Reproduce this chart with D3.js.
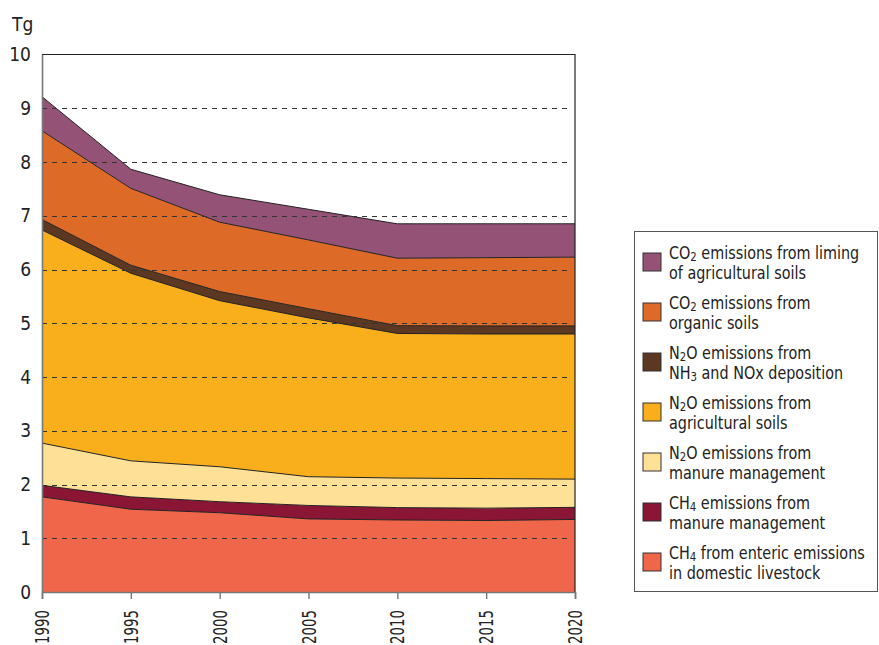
<!DOCTYPE html>
<html>
<head>
<meta charset="utf-8">
<script src="https://cdn.jsdelivr.net/npm/d3@7"></script>
<style>
  html, body { margin: 0; padding: 0; background: #fff; }
  svg { display: block; }
  text { font-family: "Liberation Sans Narrow", "Arial Narrow", "DejaVu Sans Condensed", sans-serif; fill: #222; }
</style>
</head>
<body>
<svg id="chart" width="879" height="645"></svg>
<script>
// Agricultural emissions, Tg, stacked from the bottom up
const years = [1990, 1995, 2000, 2005, 2010, 2015, 2020];
const entericCH4    = [1.77, 1.54, 1.475, 1.36, 1.34, 1.33, 1.35];
const manureCH4     = [0.215, 0.23, 0.205, 0.25, 0.23, 0.23, 0.225];
const manureN2O     = [0.785, 0.67, 0.65, 0.535, 0.55, 0.55, 0.525];
const soilsN2O      = [3.965, 3.49, 3.09, 2.955, 2.69, 2.69, 2.70];
const depositionN2O = [0.195, 0.15, 0.17, 0.17, 0.145, 0.15, 0.15];
const organicCO2    = [1.65, 1.43, 1.29, 1.28, 1.255, 1.27, 1.28];
const limingCO2     = [0.635, 0.355, 0.51, 0.57, 0.64, 0.63, 0.62];

const yTicks = [0, 1, 2, 3, 4, 5, 6, 7, 8, 9, 10];
const xTicks = [1990, 1995, 2000, 2005, 2010, 2015, 2020];

// Series in stacking order (bottom first)
const seriesKeys = ["enteric", "manureCH4", "manureN2O", "soilsN2O", "deposition", "organic", "liming"];
const seriesValues = {
  enteric: entericCH4, manureCH4: manureCH4, manureN2O: manureN2O,
  soilsN2O: soilsN2O, deposition: depositionN2O, organic: organicCO2, liming: limingCO2
};
const seriesColors = {
  enteric: "#f0664a", manureCH4: "#8a1535", manureN2O: "#fee096",
  soilsN2O: "#f9af1b", deposition: "#5c3722", organic: "#de6a28", liming: "#945276"
};
// Legend lines; each part is [text, isSubscript]
const legendItems = [
  { key: "liming",     lines: [[["CO", false], ["2", true], [" emissions from liming", false]], [["of agricultural soils", false]]] },
  { key: "organic",    lines: [[["CO", false], ["2", true], [" emissions from", false]], [["organic soils", false]]] },
  { key: "deposition", lines: [[["N", false], ["2", true], ["O emissions from", false]], [["NH", false], ["3", true], [" and NOx deposition", false]]] },
  { key: "soilsN2O",   lines: [[["N", false], ["2", true], ["O emissions from", false]], [["agricultural soils", false]]] },
  { key: "manureN2O",  lines: [[["N", false], ["2", true], ["O emissions from", false]], [["manure management", false]]] },
  { key: "manureCH4",  lines: [[["CH", false], ["4", true], [" emissions from", false]], [["manure management", false]]] },
  { key: "enteric",    lines: [[["CH", false], ["4", true], [" from enteric emissions", false]], [["in domestic livestock", false]]] }
];

const table = years.map((yr, i) => {
  const row = { year: yr };
  seriesKeys.forEach(k => { row[k] = seriesValues[k][i]; });
  return row;
});

const svg = d3.select("#chart");
const x = d3.scaleLinear().domain([1990, 2020]).range([42, 575]);
const y = d3.scaleLinear().domain([0, 10]).range([592, 54.5]);

const stacked = d3.stack().keys(seriesKeys)(table);

const area = d3.area()
  .x(d => x(d.data.year))
  .y0(d => y(d[0]))
  .y1(d => y(d[1]));
const topLine = d3.line()
  .x(d => x(d.data.year))
  .y(d => y(d[1]));

// Filled bands
svg.append("g").selectAll("path")
  .data(stacked)
  .join("path")
  .attr("d", area)
  .attr("fill", d => seriesColors[d.key]);

// Boundary lines between bands
svg.append("g").selectAll("path")
  .data(stacked)
  .join("path")
  .attr("d", topLine)
  .attr("fill", "none")
  .attr("stroke", "#222")
  .attr("stroke-width", 1);

// Dashed gridlines drawn over the bands
svg.append("g").selectAll("line")
  .data(yTicks.filter(t => t > 0 && t < 10))
  .join("line")
  .attr("x1", x(1990)).attr("x2", x(2020) - 4)
  .attr("y1", d => Math.round(y(d)) + 0.5).attr("y2", d => Math.round(y(d)) + 0.5)
  .attr("stroke", "#333")
  .attr("stroke-width", 1.2)
  .attr("stroke-dasharray", "5,5");

// Frame: top and right edges
svg.append("path")
  .attr("d", `M${x(1990)},${y(10)}H${x(2020)}V${y(0)}`)
  .attr("fill", "none")
  .attr("stroke", "#222")
  .attr("stroke-width", 1.2);

// Y axis
const yAxis = svg.append("g").attr("transform", `translate(${x(1990)},0)`)
  .call(d3.axisLeft(y).tickValues(yTicks).tickSize(0).tickPadding(11).tickFormat(d3.format("d")));
yAxis.select(".domain").attr("stroke", "#777").attr("stroke-width", 1.6);
yAxis.selectAll("text").attr("font-size", 19).attr("fill", "#222")
  .style("font-family", null);

// X axis with rotated, narrowed year labels
const xAxis = svg.append("g").attr("transform", `translate(0,${y(0)})`)
  .call(d3.axisBottom(x).tickValues(xTicks).tickSize(7).tickFormat(d3.format("d")));
xAxis.select(".domain").attr("stroke", "#777").attr("stroke-width", 1.6);
xAxis.selectAll(".tick line").attr("stroke", "#777").attr("stroke-width", 1.4);
xAxis.selectAll("text")
  .attr("font-size", 19).attr("fill", "#222")
  .style("font-family", null)
  .attr("transform", "rotate(-90)")
  .attr("text-anchor", "end")
  .attr("textLength", 34)
  .attr("lengthAdjust", "spacingAndGlyphs")
  .attr("x", -18).attr("y", 0).attr("dy", "0.35em");

// Unit label
svg.append("text").attr("x", 12).attr("y", 31).attr("font-size", 19).text("Tg");

// Legend
const legend = svg.append("g");
legend.append("rect")
  .attr("x", 634.5).attr("y", 231.5).attr("width", 243).attr("height", 360)
  .attr("fill", "#fff").attr("stroke", "#555").attr("stroke-width", 1);

legendItems.forEach((item, i) => {
  const top = 253 + i * 50;
  legend.append("rect")
    .attr("x", 643).attr("y", top).attr("width", 18).attr("height", 18)
    .attr("fill", seriesColors[item.key]).attr("stroke", "#333").attr("stroke-width", 1);
  item.lines.forEach((parts, j) => {
    const t = legend.append("text")
      .attr("transform", `translate(669,${top + 6 + j * 20}) scale(0.94,1)`)
      .attr("font-size", 17);
    parts.forEach(([str, sub]) => {
      if (sub) {
        t.append("tspan").attr("font-size", 12).attr("dy", 2).text(str);
      } else {
        const s = t.append("tspan").text(str);
        if (t.selectAll("tspan").size() > 1) s.attr("dy", -2);
      }
    });
  });
});
</script>
</body>
</html>
